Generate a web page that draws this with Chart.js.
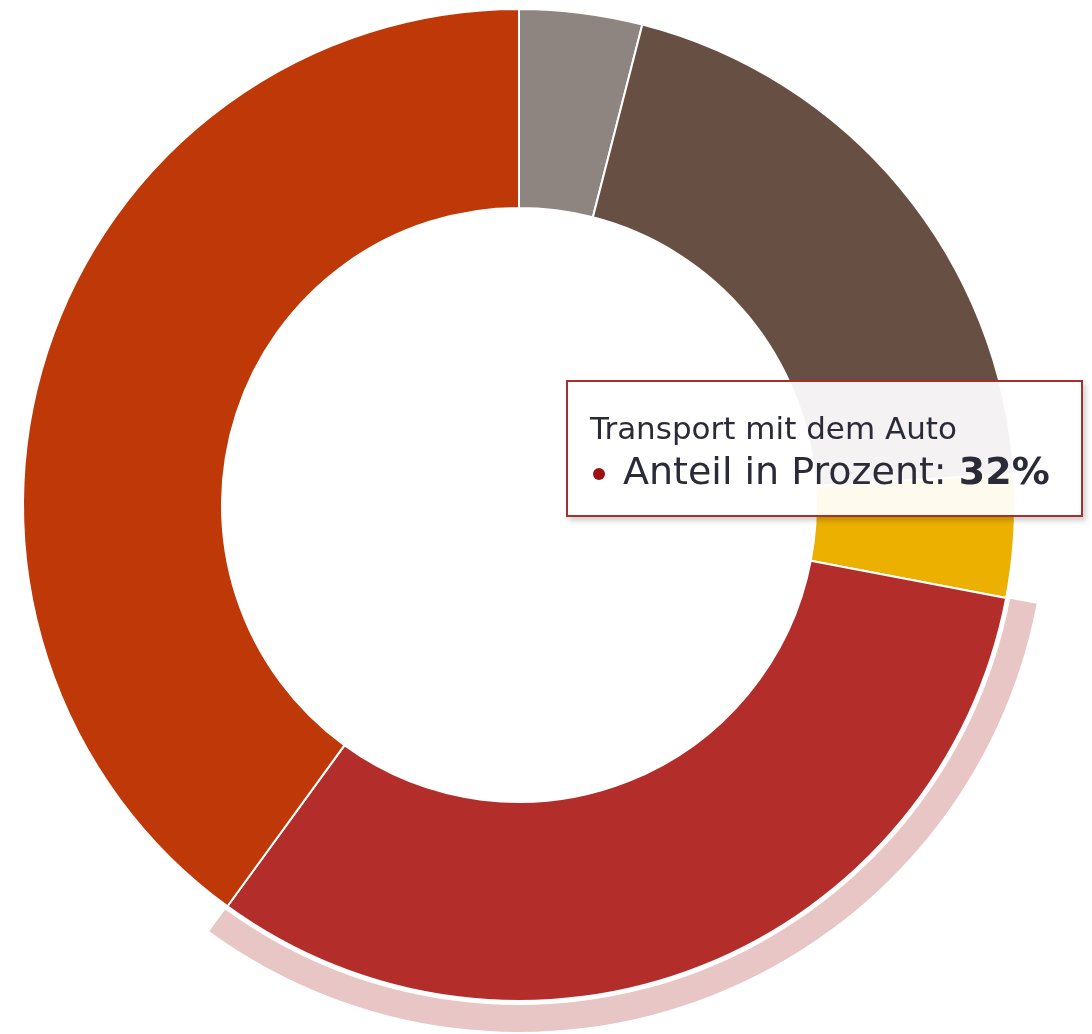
<!DOCTYPE html>
<html>
<head>
<meta charset="utf-8">
<script src="https://cdn.jsdelivr.net/npm/chart.js@4/dist/chart.umd.min.js"></script>
<style>
  body { margin: 0; background: #fff; }
  #wrap { position: absolute; left: 0; top: 0; width: 1092px; height: 1034px; }
  #tip {
    position: absolute;
    box-sizing: border-box;
    background: rgba(255,255,255,0.93);
    border: 2px solid #a8302c;
    box-shadow: 3px 4px 5px rgba(0,0,0,0.18);
    font-family: "DejaVu Sans", Verdana, sans-serif;
    color: #2b2b38;
    padding: 28px 20px 0 22px;
    white-space: nowrap;
    pointer-events: none;
  }
  #tip .t { font-size: 31px; line-height: 36px; }
  #tip .b { font-size: 38px; line-height: 46px; margin-top: 2px; }
  #tip .dot { display: inline-block; width: 12px; height: 12px; border-radius: 50%;
    background: #9c1212; margin: 0 18px 0 3px; vertical-align: middle; }
</style>
</head>
<body>
<div id="wrap"><canvas id="donut"></canvas></div>
<div id="tip"></div>
<script>
// Anteile in Prozent, im Uhrzeigersinn ab 12 Uhr
var kategorien = ["Verpackung", "Herstellung", "Lagerung", "Transport mit dem Auto", "Anbau"];
var anteile = [4, 20, 4, 32, 40];
var farben = ["#8f8580", "#684f44", "#ebb000", "#b32e2a", "#bf3908"];
var aktiv = 3;

var haloFarben = anteile.map(function(v, i) { return i == aktiv ? "#e7c6c5" : "rgba(0,0,0,0)"; });

function zeigeTooltip(context) {
  var tt = context.tooltip;
  var el = document.getElementById("tip");
  if (tt.opacity === 0 || !tt.dataPoints || !tt.dataPoints.length) {
    el.style.display = "none";
    return;
  }
  var p = tt.dataPoints[0];
  el.innerHTML = '<div class="t">' + p.label + '</div>' +
    '<div class="b"><span class="dot"></span>Anteil in Prozent: <b>' + p.raw + '%</b></div>';
  el.style.display = "block";
  el.style.left = "566px";
  el.style.top = "380px";
  el.style.width = "517px";
  el.style.height = "137px";
}

var ctx = document.getElementById("donut");
var chart = new Chart(ctx, {
  type: "doughnut",
  data: {
    labels: kategorien,
    datasets: [
      {
        label: "halo",
        data: anteile,
        backgroundColor: haloFarben,
        hoverBackgroundColor: haloFarben,
        borderWidth: 0,
        weight: 27,
        clip: false
      },
      {
        label: "abstand",
        data: anteile,
        backgroundColor: "rgba(0,0,0,0)",
        hoverBackgroundColor: "rgba(0,0,0,0)",
        borderWidth: 0,
        weight: 4,
        clip: false
      },
      {
        label: "Anteil in Prozent",
        data: anteile,
        backgroundColor: farben,
        hoverBackgroundColor: farben,
        borderColor: "#ffffff",
        hoverBorderColor: "#ffffff",
        borderWidth: 2,
        hoverBorderWidth: 2,
        weight: 199,
        clip: false
      }
    ]
  },
  options: {
    responsive: true,
    maintainAspectRatio: false,
    animation: false,
    radius: 527,
    cutout: "56.36%",
    hoverOffset: 0,
    offset: 0,
    events: [],
    layout: { padding: { right: 54, bottom: 24 } },
    plugins: {
      legend: { display: false },
      tooltip: { enabled: false, external: zeigeTooltip }
    }
  }
});

chart.tooltip.setActiveElements([{ datasetIndex: 2, index: aktiv }], { x: 800, y: 450 });
chart.update();
</script>
</body>
</html>
